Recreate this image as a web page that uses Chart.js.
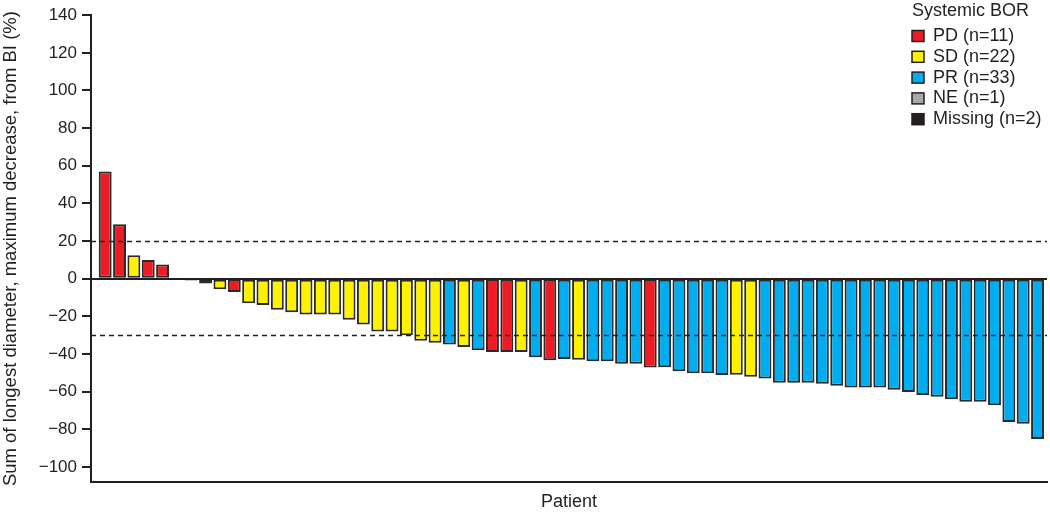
<!DOCTYPE html>
<html>
<head>
<meta charset="utf-8">
<script src="https://cdn.jsdelivr.net/npm/chart.js@4"></script>
<style>
  html, body { margin: 0; padding: 0; background: #fff; }
  #wrap { width: 1050px; height: 513px; position: relative; }
</style>
</head>
<body>
<div id="wrap"><canvas id="waterfall"></canvas></div>
<script>
// max decrease in sum of longest diameter per patient (%), sorted
const changes = [
  57, 29, 12.5, 10, 7.5, 0, -1, -2.6, -5.6, -7,
  -13, -14, -16.5, -17.8, -19, -19, -19, -21.8, -24.3, -28,
  -28, -30.1, -33, -34, -35, -36.3, -38, -39, -39, -39,
  -41.7, -43.3, -42.6, -43.1, -43.8, -43.8, -45.2, -45.2, -47.2, -47,
  -49.1, -50.2, -50.2, -51.2, -51, -52.1, -53, -55.3, -55.3, -55.3,
  -55.8, -56.9, -57.8, -57.8, -57.8, -59, -60.2, -61.8, -62.7, -64.1,
  -65.3, -65.3, -67.2, -76.1, -77.1, -85.2
];
// systemic best overall response for each bar
const response = [
  "PD", "PD", "SD", "PD", "PD", "SD", "PD", "PD", "SD", "PD",
  "SD", "SD", "SD", "SD", "SD", "SD", "SD", "SD", "SD", "SD",
  "SD", "SD", "SD", "SD", "PR", "SD", "PR", "PD", "PD", "SD",
  "PR", "PD", "PR", "SD", "PR", "PR", "PR", "PR", "PD", "PR",
  "PR", "PR", "PR", "PR", "SD", "SD", "PR", "PR", "PR", "PR",
  "PR", "PR", "PR", "PR", "PR", "PR", "PR", "PR", "PR", "PR",
  "PR", "PR", "PR", "PR", "PR", "PR"
];
const legendKeys = ["PD", "SD", "PR", "NE", "Missing"];
const legendCounts = [11, 22, 33, 1, 2];
const legendColors = ["#ed1c24", "#fff200", "#00aeef", "#a7a9ac", "#231f20"];
const yTicks = [-100, -80, -60, -40, -20, 0, 20, 40, 60, 80, 100, 120, 140];
const refLines = [20, -30];

const ink = "#231f20";
const fontFamily = "'Liberation Sans', Arial, Helvetica, sans-serif";
const colorOf = code => legendColors[legendKeys.indexOf(code)];

const refLinePlugin = {
  id: "refLines",
  afterDatasetsDraw(chart) {
    const { ctx, chartArea: a, scales: { y } } = chart;
    ctx.save();
    ctx.strokeStyle = ink;
    ctx.lineWidth = 1.5;
    ctx.setLineDash([5, 4]);
    refLines.forEach(v => {
      const py = Math.round(y.getPixelForValue(v)) + 0.5;
      ctx.beginPath();
      ctx.moveTo(a.left, py);
      ctx.lineTo(a.right, py);
      ctx.stroke();
    });
    ctx.restore();
  }
};

const borLegendPlugin = {
  id: "borLegend",
  afterDraw(chart) {
    const { ctx, chartArea: a } = chart;
    const x0 = a.right - 135;
    ctx.save();
    ctx.fillStyle = ink;
    ctx.font = "18px " + fontFamily;
    ctx.textBaseline = "middle";
    ctx.textAlign = "left";
    ctx.fillText("Systemic BOR", x0, 11);
    legendKeys.forEach((k, i) => {
      const cy = 36 + i * 20.8;
      ctx.fillStyle = legendColors[i];
      ctx.fillRect(x0, cy - 5.5, 12, 11);
      ctx.strokeStyle = ink;
      ctx.lineWidth = 1.5;
      ctx.strokeRect(x0, cy - 5.5, 12, 11);
      ctx.fillStyle = ink;
      ctx.fillText(`${k} (n=${legendCounts[i]})`, x0 + 21, cy);
    });
    ctx.restore();
  }
};

new Chart(document.getElementById("waterfall"), {
  type: "bar",
  data: {
    datasets: [{
      data: changes.map((v, i) => ({ x: i, y: v })),
      backgroundColor: response.map(colorOf),
      borderColor: "#2a2a2a",
      borderWidth: 2,
      borderSkipped: false,
      barPercentage: 0.9,
      categoryPercentage: 1
    }]
  },
  options: {
    responsive: true,
    maintainAspectRatio: false,
    animation: false,
    layout: { padding: { top: 12, right: 3, left: 0, bottom: 0 } },
    plugins: { legend: { display: false }, tooltip: { enabled: false } },
    scales: {
      x: {
        type: "linear",
        offset: false,
        bounds: "data",
        min: -0.99,
        max: 65.66,
        ticks: { display: false },
        grid: { display: false, offset: false },
        border: { display: true, color: ink, width: 2 },
        title: {
          display: true,
          text: "Patient",
          color: ink,
          font: { family: fontFamily, size: 18 },
          padding: 0
        },
        afterFit(s) { s.height = 31; }
      },
      y: {
        min: -108,
        max: 140,
        afterBuildTicks(s) { s.ticks = yTicks.map(v => ({ value: v })); },
        ticks: {
          color: ink,
          padding: 5,
          font: { family: fontFamily, size: 17 },
          callback: v => (v < 0 ? "\u2212" + Math.abs(v) : String(v))
        },
        grid: {
          color: c => (c.tick && c.tick.value === 0 ? ink : "rgba(0,0,0,0)"),
          lineWidth: 2,
          tickColor: ink,
          tickWidth: 2,
          tickLength: 9
        },
        border: { display: true, color: ink, width: 2 },
        title: {
          display: true,
          text: "Sum of longest diameter, maximum decrease, from BI (%)",
          color: ink,
          font: { family: fontFamily, size: 18.5 },
          padding: 0
        },
        afterFit(s) { s.width = 91; }
      }
    }
  },
  plugins: [refLinePlugin, borLegendPlugin]
});
</script>
</body>
</html>
